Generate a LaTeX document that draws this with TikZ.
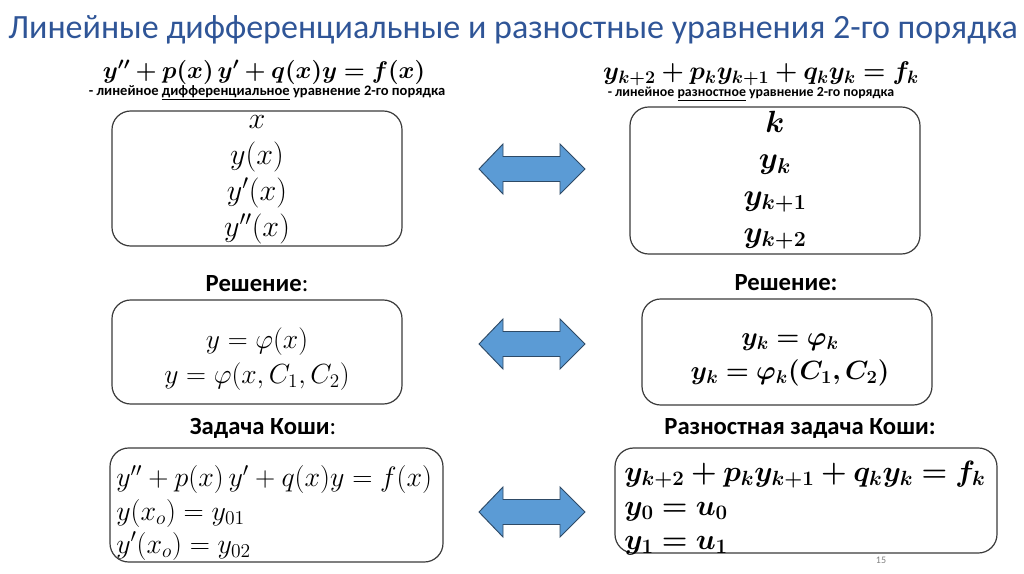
\RequirePackage{fix-cm}
\documentclass[tikz,border=0pt]{standalone}
\usepackage{amsmath}
\usepackage{bm}
\usepackage{fontspec}
\setmainfont{Carlito}
\usetikzlibrary{calc}
\definecolor{titleblue}{HTML}{2F5597}
\definecolor{arrowfill}{HTML}{5B9BD5}
\definecolor{arrowline}{HTML}{2E4A66}
\definecolor{boxline}{HTML}{3A3A3A}
\begin{document}
\begin{tikzpicture}[x=0.75pt,y=-0.75pt,
  roundbox/.style={draw=boxline,line width=0.9pt,rounded corners=14pt,inner sep=0pt},
  heading/.style={font=\bfseries\fontsize{18.5}{22}\selectfont,inner sep=0pt},
  subnote/.style={font=\bfseries\fontsize{10.4}{12}\selectfont,inner sep=0pt},
  content/.style={inner sep=0pt,align=center},
  dblarrow/.style={fill=arrowfill,draw=arrowline,line width=0.7pt,line join=miter}
]
\useasboundingbox (0,0) rectangle (1024,574);
% title
\node[inner sep=0pt,text=titleblue,font=\fontsize{25.5}{29}\selectfont] (title) at (513,30) {Линейные дифференциальные и разностные уравнения 2-го порядка};
% top formulas
\node[inner sep=0pt,font=\fontsize{18.1}{20}\selectfont] (fl) at (264,72) {$\bm{y'' + p(x)\,y' + q(x)y = f(x)}$};
\node[subnote,font=\bfseries\fontsize{10.9}{12}\selectfont] (nl) at (267,93) {- линейное \underline{дифференциальное} уравнение 2-го порядка};
\node[inner sep=0pt,font=\fontsize{19.2}{22}\selectfont] (fr) at (761,74) {$\bm{y_{k+2} + p_k y_{k+1} + q_k y_k = f_k}$};
\node[subnote] (nr) at (751,94) {- линейное \underline{разностное} уравнение 2-го порядка};
% box 1 left
\node[roundbox,minimum width=290*0.75pt,minimum height=135*0.75pt] (b1) at (257,178.5) {};
\node[content,font=\fontsize{22.6}{27}\selectfont] (c1) at (257,180) {$x$\\ $y(x)$\\ $y'(x)$\\ $y''(x)$};
% box 1 right
\node[roundbox,minimum width=290*0.75pt,minimum height=147*0.75pt] (b2) at (775,180.5) {};
\node[content,font=\fontsize{23}{27.5}\selectfont] (c2) at (775,180) {$\bm{k}$\\ $\bm{y_k}$\\ $\bm{y_{k+1}}$\\ $\bm{y_{k+2}}$};
% solution headings
\node[heading] (h1) at (257,284) {Решение\textmd{:}};
\node[heading] (h2) at (786,283) {Решение:};
\node[roundbox,minimum width=290*0.75pt,minimum height=104*0.75pt] (b3) at (257,352) {};
\node[content,font=\fontsize{20.74}{26}\selectfont] (c3) at (257,359) {$y=\varphi(x)$\\ $y=\varphi(x,C_1,C_2)$};
\node[roundbox,minimum width=290*0.75pt,minimum height=106*0.75pt] (b4) at (787,352) {};
\node[content,font=\fontsize{19.8}{26}\selectfont] (c4) at (790,360) {$\bm{y_k=\varphi_k}$\\ $\bm{y_k=\varphi_k(C_1,C_2)}$};
% Cauchy headings
\node[heading] (h3) at (263,428) {Задача Коши\textmd{:}};
\node[heading] (h4) at (800,428) {Разностная задача Коши:};
\node[roundbox,minimum width=333*0.75pt,minimum height=114*0.75pt] (b5) at (276.5,505) {};
\node[inner sep=0pt,align=left,anchor=west,font=\fontsize{21}{24.8}\selectfont] (c5) at (116,513) {$y''+p(x)\,y'+q(x)y=f(x)$\\ $y(x_o)=y_{01}$\\ $y'(x_o)=y_{02}$};
\node[roundbox,minimum width=382*0.75pt,minimum height=105*0.75pt] (b6) at (806,500.5) {};
\node[inner sep=0pt,align=left,anchor=west,font=\fontsize{22}{25.5}\selectfont] (c6) at (624,508) {$\bm{y_{k+2}+p_k y_{k+1}+q_k y_k=f_k}$\\ $\bm{y_0=u_0}$\\ $\bm{y_1=u_1}$};
% double arrows
\foreach \n/\cy in {a1/169,a2/344,a3/512}{
  \coordinate (\n) at (532,\cy);
  \draw[dblarrow] ($(\n)+(-53,0)$) -- ($(\n)+(-29,-25)$) -- ($(\n)+(-29,-12.5)$) -- ($(\n)+(28,-12.5)$) -- ($(\n)+(28,-25)$) -- ($(\n)+(53,0)$) -- ($(\n)+(28,25)$) -- ($(\n)+(28,12.5)$) -- ($(\n)+(-29,12.5)$) -- ($(\n)+(-29,25)$) -- cycle;
}
\node[inner sep=0pt,text=gray,font=\fontsize{7.5}{9}\selectfont] (pg) at (881,560) {15};
\end{tikzpicture}
\end{document}
